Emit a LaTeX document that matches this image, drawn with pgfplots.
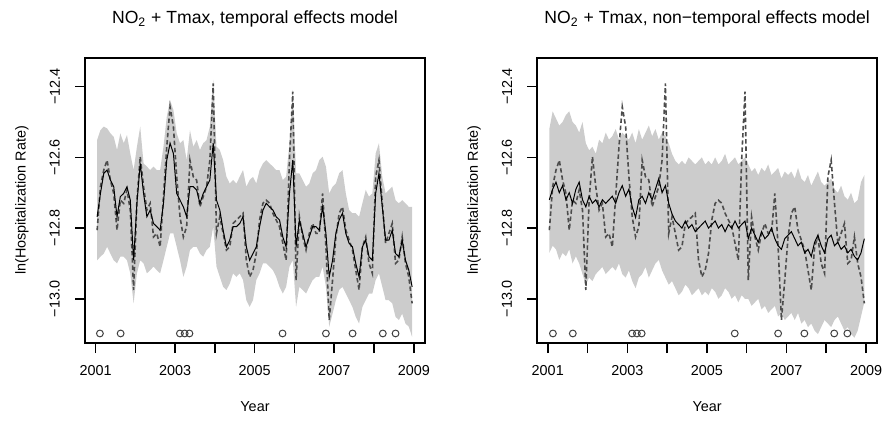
\documentclass[border=0pt]{standalone}
\usepackage{fontspec}
\setmainfont{Liberation Sans}
\usepackage{pgfplots}
\pgfplotsset{compat=1.18}
\usepackage{pgfplotstable}
\usepgfplotslibrary{fillbetween}

% monthly values: observed (O), temporal fit/band (FL UL LL), non-temporal fit/band (FR UR LR)
\pgfplotstableread{
x        O       FL      UL      LL      FR      UR      LR
2001.040 -12.806 -12.768 -12.551 -12.891 -12.72 -12.52 -12.87
2001.123 -12.683 -12.702 -12.523 -12.881 -12.69 -12.47 -12.85
2001.207 -12.636 -12.645 -12.513 -12.872 -12.67 -12.49 -12.86
2001.290 -12.608 -12.636 -12.518 -12.853 -12.70 -12.51 -12.89
2001.373 -12.664 -12.664 -12.532 -12.872 -12.68 -12.50 -12.87
2001.457 -12.702 -12.683 -12.542 -12.891 -12.72 -12.48 -12.88
2001.540 -12.806 -12.768 -12.579 -12.900 -12.70 -12.47 -12.86
2001.623 -12.721 -12.711 -12.532 -12.881 -12.73 -12.50 -12.90
2001.707 -12.730 -12.702 -12.560 -12.881 -12.69 -12.51 -12.88
2001.790 -12.692 -12.683 -12.537 -12.891 -12.67 -12.53 -12.90
2001.873 -12.749 -12.721 -12.589 -12.928 -12.72 -12.50 -12.93
2001.957 -12.975 -12.891 -12.636 -13.013 -12.74 -12.56 -12.96
2002.040 -12.721 -12.730 -12.570 -12.928 -12.71 -12.58 -12.94
2002.123 -12.598 -12.617 -12.513 -12.891 -12.73 -12.57 -12.95
2002.207 -12.683 -12.702 -12.617 -12.900 -12.72 -12.59 -12.93
2002.290 -12.749 -12.768 -12.626 -12.928 -12.74 -12.55 -12.92
2002.373 -12.730 -12.749 -12.636 -12.919 -12.72 -12.56 -12.91
2002.457 -12.825 -12.787 -12.626 -12.909 -12.73 -12.53 -12.93
2002.540 -12.815 -12.796 -12.636 -12.919 -12.72 -12.55 -12.92
2002.623 -12.853 -12.806 -12.636 -12.928 -12.71 -12.54 -12.91
2002.707 -12.711 -12.730 -12.570 -12.891 -12.73 -12.52 -12.92
2002.790 -12.570 -12.608 -12.485 -12.853 -12.70 -12.55 -12.90
2002.873 -12.457 -12.560 -12.438 -12.815 -12.68 -12.53 -12.93
2002.957 -12.513 -12.589 -12.466 -12.815 -12.71 -12.54 -12.94
2003.040 -12.655 -12.702 -12.532 -12.853 -12.69 -12.55 -12.92
2003.123 -12.768 -12.721 -12.560 -12.891 -12.74 -12.53 -12.95
2003.207 -12.825 -12.740 -12.551 -12.938 -12.77 -12.56 -12.97
2003.290 -12.796 -12.768 -12.608 -12.909 -12.72 -12.52 -12.94
2003.373 -12.608 -12.683 -12.523 -12.862 -12.71 -12.55 -12.93
2003.457 -12.655 -12.683 -12.570 -12.853 -12.73 -12.53 -12.91
2003.540 -12.664 -12.692 -12.551 -12.853 -12.70 -12.51 -12.94
2003.623 -12.740 -12.730 -12.579 -12.872 -12.72 -12.54 -12.92
2003.707 -12.711 -12.702 -12.560 -12.881 -12.69 -12.52 -12.90
2003.790 -12.683 -12.683 -12.551 -12.862 -12.66 -12.55 -12.89
2003.873 -12.608 -12.664 -12.513 -12.853 -12.70 -12.53 -12.92
2003.957 -12.391 -12.560 -12.381 -12.796 -12.68 -12.54 -12.94
2004.040 -12.815 -12.721 -12.570 -12.909 -12.73 -12.56 -12.96
2004.123 -12.768 -12.749 -12.579 -12.938 -12.76 -12.59 -12.95
2004.207 -12.815 -12.806 -12.608 -12.966 -12.78 -12.61 -12.97
2004.290 -12.862 -12.853 -12.655 -12.975 -12.79 -12.62 -12.99
2004.373 -12.853 -12.834 -12.674 -12.957 -12.80 -12.61 -12.98
2004.457 -12.787 -12.796 -12.664 -12.928 -12.78 -12.62 -12.96
2004.540 -12.777 -12.796 -12.674 -12.938 -12.80 -12.60 -12.97
2004.623 -12.768 -12.787 -12.655 -12.928 -12.79 -12.61 -12.99
2004.707 -12.758 -12.768 -12.636 -12.947 -12.81 -12.62 -12.98
2004.790 -12.891 -12.853 -12.683 -13.004 -12.80 -12.61 -12.97
2004.873 -12.938 -12.891 -12.664 -13.023 -12.79 -12.60 -12.99
2004.957 -12.919 -12.872 -12.655 -13.004 -12.78 -12.62 -12.98
2005.040 -12.872 -12.853 -12.674 -12.947 -12.80 -12.61 -12.99
2005.123 -12.777 -12.796 -12.636 -12.928 -12.79 -12.62 -12.97
2005.207 -12.730 -12.749 -12.617 -12.900 -12.78 -12.60 -12.98
2005.290 -12.721 -12.730 -12.608 -12.900 -12.80 -12.62 -13.00
2005.373 -12.730 -12.740 -12.617 -12.909 -12.79 -12.61 -12.99
2005.457 -12.758 -12.749 -12.626 -12.919 -12.81 -12.59 -12.97
2005.540 -12.777 -12.768 -12.636 -12.938 -12.79 -12.62 -12.98
2005.623 -12.796 -12.777 -12.636 -12.966 -12.80 -12.61 -13.00
2005.707 -12.843 -12.825 -12.664 -12.985 -12.78 -12.60 -12.99
2005.790 -12.891 -12.853 -12.655 -12.966 -12.80 -12.62 -13.01
2005.873 -12.608 -12.702 -12.560 -12.909 -12.79 -12.61 -12.99
2005.957 -12.414 -12.608 -12.409 -12.891 -12.78 -12.60 -13.00
2006.040 -12.947 -12.853 -12.645 -13.023 -12.83 -12.62 -13.00
2006.123 -12.768 -12.777 -12.645 -12.966 -12.80 -12.64 -13.02
2006.207 -12.825 -12.815 -12.664 -12.975 -12.82 -12.63 -13.01
2006.290 -12.862 -12.853 -12.683 -12.985 -12.84 -12.65 -13.00
2006.373 -12.815 -12.825 -12.674 -12.966 -12.81 -12.63 -13.03
2006.457 -12.787 -12.796 -12.645 -12.947 -12.83 -12.64 -13.02
2006.540 -12.815 -12.796 -12.636 -12.938 -12.82 -12.62 -13.04
2006.623 -12.815 -12.806 -12.608 -12.938 -12.80 -12.65 -13.03
2006.707 -12.702 -12.740 -12.598 -12.909 -12.83 -12.64 -13.02
2006.790 -12.853 -12.815 -12.626 -12.966 -12.85 -12.63 -13.05
2006.873 -13.060 -12.938 -12.702 -13.079 -12.86 -12.66 -13.04
2006.957 -12.947 -12.891 -12.683 -13.042 -12.83 -12.64 -13.06
2007.040 -12.825 -12.815 -12.674 -13.004 -12.82 -12.65 -13.05
2007.123 -12.758 -12.777 -12.645 -12.975 -12.81 -12.64 -13.04
2007.207 -12.740 -12.758 -12.636 -12.966 -12.83 -12.66 -13.06
2007.290 -12.806 -12.815 -12.702 -12.985 -12.85 -12.63 -13.04
2007.373 -12.834 -12.843 -12.749 -13.004 -12.84 -12.66 -13.07
2007.457 -12.862 -12.853 -12.758 -13.023 -12.87 -12.67 -13.06
2007.540 -12.919 -12.900 -12.758 -13.051 -12.86 -12.65 -13.08
2007.623 -12.975 -12.938 -12.768 -13.070 -12.88 -12.68 -13.07
2007.707 -12.853 -12.853 -12.730 -13.023 -12.84 -12.66 -13.09
2007.790 -12.825 -12.834 -12.692 -13.004 -12.82 -12.64 -13.10
2007.873 -12.900 -12.881 -12.711 -12.985 -12.85 -12.67 -13.08
2007.957 -12.928 -12.891 -12.702 -12.985 -12.87 -12.68 -13.06
2008.040 -12.655 -12.702 -12.589 -12.947 -12.83 -12.67 -13.07
2008.123 -12.608 -12.645 -12.560 -12.928 -12.82 -12.66 -13.08
2008.207 -12.730 -12.740 -12.655 -12.966 -12.85 -12.69 -13.06
2008.290 -12.843 -12.834 -12.702 -13.004 -12.84 -12.70 -13.05
2008.373 -12.815 -12.834 -12.692 -13.004 -12.86 -12.68 -13.07
2008.457 -12.787 -12.806 -12.683 -13.013 -12.85 -12.71 -13.09
2008.540 -12.900 -12.872 -12.721 -13.051 -12.87 -12.72 -13.08
2008.623 -12.891 -12.881 -12.730 -13.060 -12.86 -12.70 -13.10
2008.707 -12.825 -12.834 -12.721 -13.042 -12.88 -12.73 -13.11
2008.790 -12.900 -12.891 -12.730 -13.070 -12.89 -12.72 -13.09
2008.873 -12.938 -12.919 -12.740 -13.079 -12.87 -12.67 -13.05
2008.957 -13.013 -12.966 -12.740 -13.108 -12.83 -12.65 -13.01
}\hosp

\pgfplotsset{
  rpanel/.style={
    scale only axis, width=170pt, height=142.5pt,
    xmin=2000.735, xmax=2009.28, ymin=-13.125, ymax=-12.319,
    axis line style={line width=0.8pt},
    tick align=outside, tick pos=left, major tick length=5pt,
    tick style={line width=0.8pt, black},
    xtick={2001,2002,...,2009},
    xticklabels={2001,,2003,,2005,,2007,,2009},
    ytick={-13,-12.8,-12.6,-12.4},
    yticklabels={−13.0,−12.8,−12.6,−12.4},
    ticklabel style={font=\fontsize{7.2}{8}\selectfont, inner sep=0pt},
    xticklabel style={anchor=north},
    yticklabel style={rotate=90, anchor=south},
    xticklabel shift=5.9pt, yticklabel shift=7.4pt,
    label style={font=\fontsize{7.2}{8}\selectfont},
    xlabel={Year}, ylabel={ln(Hospitalization Rate)},
    xlabel style={at={(axis description cs:0.5,-0.2235)}, anchor=center},
    ylabel style={at={(axis description cs:-0.1853,0.5)}, anchor=center},
    title style={font=\fontsize{8.8}{10}\selectfont, at={(axis description cs:0.5,1.094)}, anchor=center},
  },
  obs/.style={black!70, line width=0.8pt, dash pattern=on 2.2pt off 1.4pt},
  fit/.style={black, line width=0.5pt},
  zero/.style={only marks, mark=o, mark size=1.7pt, black!75, mark options={line width=0.5pt}},
}

\begin{document}
\begin{tikzpicture}
\begin{axis}[rpanel, at={(42.5pt,38.5pt)}, anchor=south west,
  title={NO\textsubscript{2} + Tmax, temporal effects model}]
  \addplot[draw=none, name path=uL] table[x=x, y=UL] {\hosp};
  \addplot[draw=none, name path=lL] table[x=x, y=LL] {\hosp};
  \addplot[fill=gray!40, draw=none] fill between[of=uL and lL];
  \addplot[obs] table[x=x, y=O] {\hosp};
  \addplot[fit] table[x=x, y=FL] {\hosp};
  \addplot[zero] coordinates {
    (2001.11,-13.098) (2001.63,-13.098) (2003.12,-13.098) (2003.24,-13.098)
    (2003.36,-13.098) (2005.70,-13.098) (2006.79,-13.098) (2007.46,-13.098)
    (2008.22,-13.098) (2008.54,-13.098)
  };
\end{axis}

\begin{axis}[rpanel, at={(268.6pt,38.5pt)}, anchor=south west,
  title={NO\textsubscript{2} + Tmax, non−temporal effects model}]
  \addplot[draw=none, name path=uR] table[x=x, y=UR] {\hosp};
  \addplot[draw=none, name path=lR] table[x=x, y=LR] {\hosp};
  \addplot[fill=gray!40, draw=none] fill between[of=uR and lR];
  \addplot[obs] table[x=x, y=O] {\hosp};
  \addplot[fit] table[x=x, y=FR] {\hosp};
  \addplot[zero] coordinates {
    (2001.13,-13.098) (2001.63,-13.098) (2003.12,-13.098) (2003.24,-13.098)
    (2003.36,-13.098) (2005.70,-13.098) (2006.79,-13.098) (2007.45,-13.098)
    (2008.20,-13.098) (2008.53,-13.098)
  };
\end{axis}
\pgfresetboundingbox
\path (0,0) rectangle (443.5pt,210pt);
\end{tikzpicture}
\end{document}
